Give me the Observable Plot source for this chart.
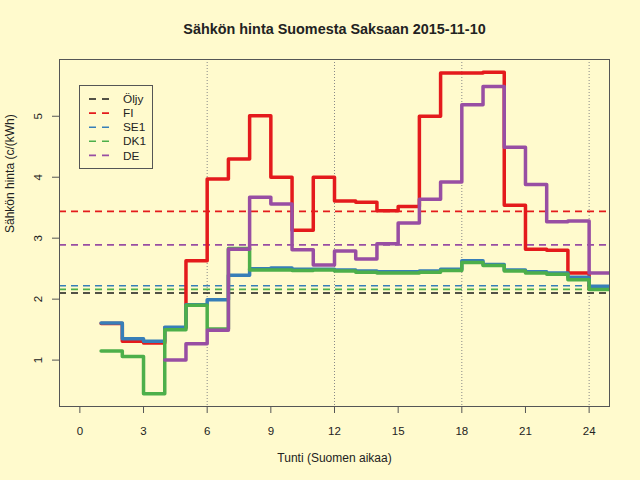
<!DOCTYPE html>
<html>
<head>
<meta charset="utf-8">
<script src="https://cdn.jsdelivr.net/npm/d3@7"></script>
<script src="https://cdn.jsdelivr.net/npm/@observablehq/plot@0.6"></script>
<style>
  html, body { margin: 0; padding: 0; background: #FFFACD; }
  #chart { width: 640px; height: 480px; }
</style>
</head>
<body>
<div id="chart"></div>
<script>
// ---- data ----
const hours = [1,2,3,4,5,6,7,8,9,10,11,12,13,14,15,16,17,18,19,20,21,22,23,24];
const fi  = [1.60,1.31,1.28,1.53,2.63,3.97,4.30,5.01,4.00,3.13,4.00,3.61,3.59,3.45,3.52,5.00,5.71,5.71,5.72,3.54,2.82,2.80,2.43,2.18];
const se1 = [1.61,1.35,1.31,1.54,1.91,1.99,2.39,2.50,2.51,2.49,2.49,2.48,2.46,2.45,2.45,2.46,2.49,2.63,2.57,2.48,2.45,2.43,2.36,2.21];
const dk1 = [1.15,1.06,0.45,1.50,1.90,1.51,2.83,2.48,2.48,2.47,2.48,2.46,2.44,2.43,2.43,2.44,2.47,2.60,2.55,2.46,2.43,2.41,2.32,2.16];
const de  = [null,null,null,1.00,1.27,1.49,2.82,3.67,3.56,2.81,2.56,2.79,2.66,2.91,3.25,3.64,3.92,5.19,5.49,4.49,3.88,3.27,3.28,2.43];
const seriesNames = ["Öljy","FI","SE1","DK1","DE"];
const seriesColors = ["#1a1a1a","#E41A1C","#377EB8","#4DAF4A","#984EA3"];
const meanValues = [2.10, 3.44, 2.22, 2.16, 2.89]; // Öljy, FI, SE1, DK1, DE
const xTicks = [0,3,6,9,12,15,18,21,24];
const yTicks = [1,2,3,4,5];
const gridHours = [6,12,18,24];
const titleText = "Sähkön hinta Suomesta Saksaan 2015-11-10";
const xLabel = "Tunti (Suomen aikaa)";
const yLabel = "Sähkön hinta (c/(kWh)";

// step table: each hour's value holds from h to h+1
function steps(values) {
  const rows = [];
  hours.forEach((h, i) => { if (values[i] != null) rows.push({x: h, y: values[i]}); });
  const last = rows[rows.length - 1];
  rows.push({x: last.x + 1, y: last.y});
  return rows;
}
const lineSeries = [
  {name: "FI", values: fi, color: seriesColors[1]},
  {name: "SE1", values: se1, color: seriesColors[2]},
  {name: "DK1", values: dk1, color: seriesColors[3]},
  {name: "DE", values: de, color: seriesColors[4]}
];
const meanRows = seriesNames.map((n, i) => ({name: n, y: meanValues[i], color: seriesColors[i]}));

const textColor = "#222";
const axisColor = "#555";
const fontFam = "'Liberation Sans', Arial, sans-serif";

const plot = Plot.plot({
  width: 640,
  height: 480,
  marginLeft: 59,
  marginRight: 31,
  marginTop: 59,
  marginBottom: 74,
  style: {background: "#FFFACD", fontFamily: fontFam, fontSize: "12px", color: textColor},
  x: {domain: [-0.96, 24.96], axis: null},
  y: {domain: [0.239, 5.931], axis: null},
  marks: [
    Plot.ruleX(gridHours, {x: d => d, stroke: "#888", strokeWidth: 1, strokeDasharray: "1,2"}),
    Plot.ruleY(meanRows, {y: "y", stroke: "color", strokeWidth: 1.6, strokeDasharray: "7,5"}),
    ...lineSeries.map(s => Plot.line(steps(s.values), {
      x: "x", y: "y", curve: "step-after", stroke: s.color, strokeWidth: 3.5, clip: true
    })),
    Plot.frame({stroke: axisColor, strokeWidth: 1}),
    Plot.axisX({ticks: xTicks, tickSize: 7, tickPadding: 13, stroke: axisColor, fill: textColor, fontSize: 11.5, label: null}),
    Plot.axisY({ticks: yTicks, tickSize: 7, stroke: axisColor, tickFormat: () => "", label: null}),
    Plot.text(yTicks, {y: d => d, text: d => String(d), frameAnchor: "left", dx: -21, rotate: -90,
      textAnchor: "middle", lineAnchor: "middle", fill: textColor, fontSize: 11.5}),
    Plot.text([xLabel], {frameAnchor: "bottom", dy: 52, lineAnchor: "middle", fill: textColor, fontSize: 12}),
    Plot.text([yLabel], {frameAnchor: "left", dx: -49, rotate: -90, lineAnchor: "middle", fill: textColor, fontSize: 12}),
    Plot.text([titleText], {frameAnchor: "top", dy: -30, lineAnchor: "middle", fill: textColor, fontSize: 14.4, fontWeight: "bold"})
  ]
});
document.getElementById("chart").appendChild(plot);

// legend (top-left inside plot area)
const svg = d3.select(plot);
const lg = svg.append("g").attr("font-family", fontFam).attr("font-size", 11.8).attr("text-anchor", "start");
lg.append("rect").attr("x", 79.5).attr("y", 85.5).attr("width", 73).attr("height", 83)
  .attr("fill", "#FFFACD").attr("stroke", axisColor);
seriesNames.forEach((n, i) => {
  const y = 99 + i * 14.1;
  lg.append("line").attr("x1", 89).attr("x2", 109).attr("y1", y).attr("y2", y)
    .attr("stroke", seriesColors[i]).attr("stroke-width", 1.6).attr("stroke-dasharray", "7,6");
  lg.append("text").attr("x", 123).attr("y", y).attr("dy", "0.35em").attr("text-anchor", "start")
    .attr("fill", textColor).text(n);
});
</script>
</body>
</html>
